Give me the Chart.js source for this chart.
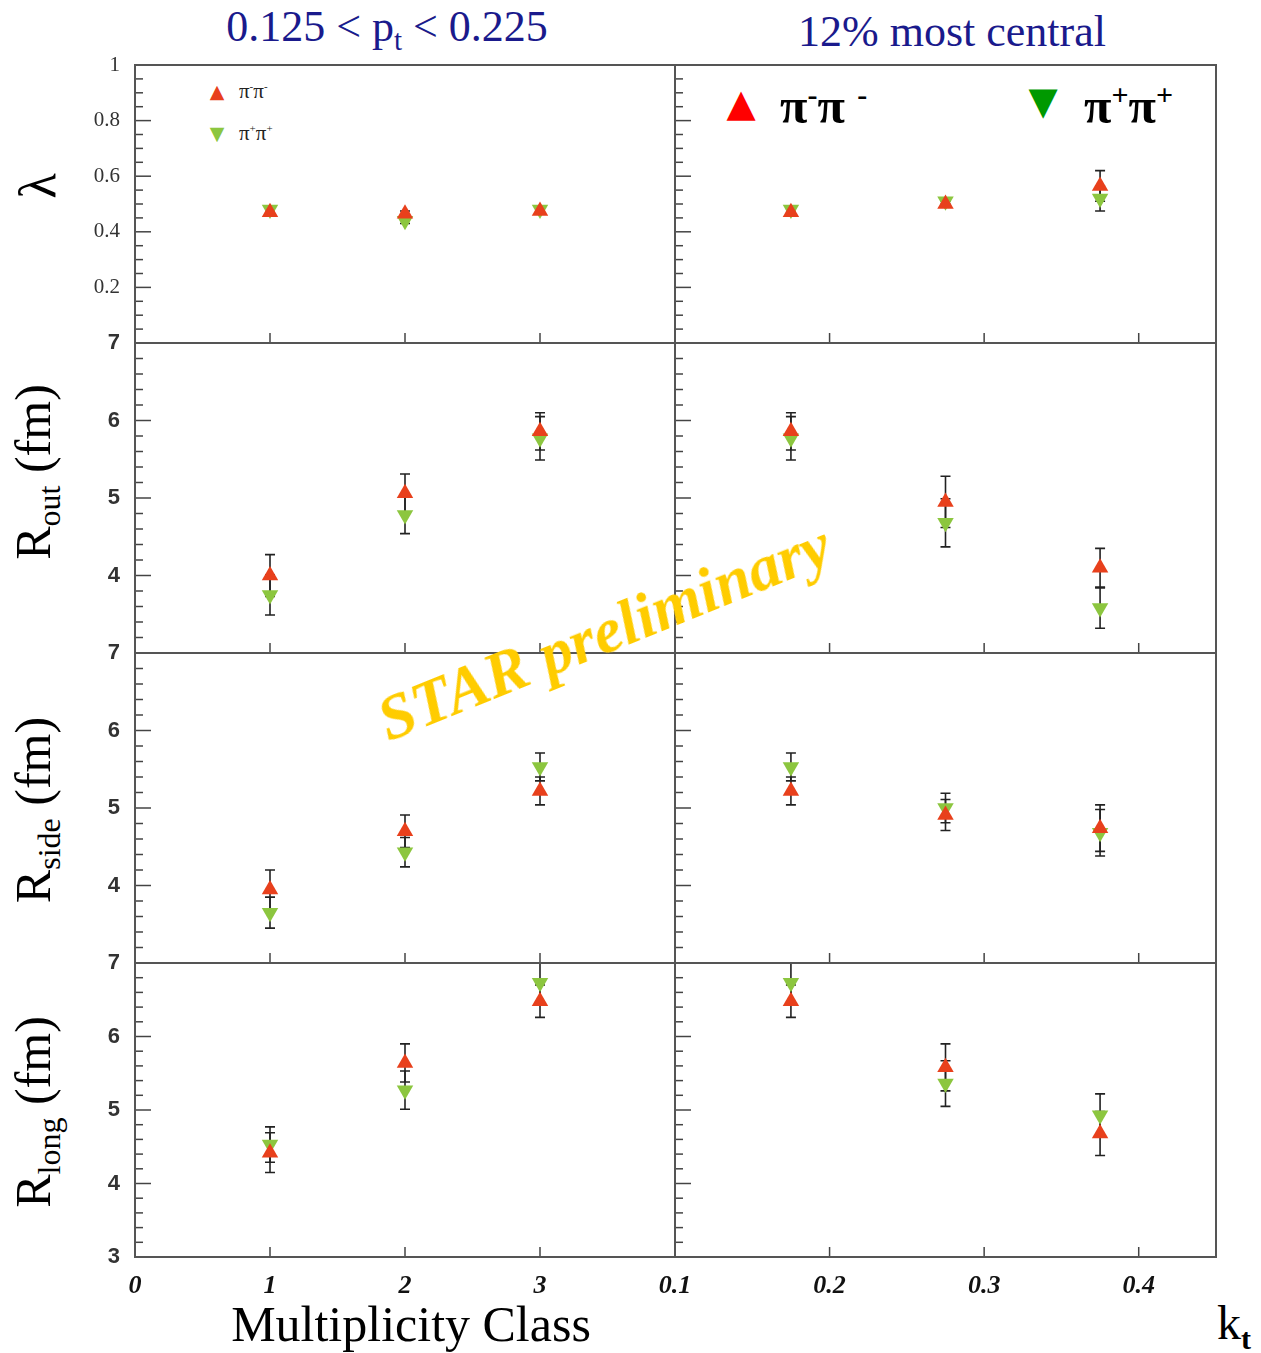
<!DOCTYPE html>
<html>
<head>
<meta charset="utf-8">
<script src="https://cdn.jsdelivr.net/npm/chart.js"></script>
<style>
  body { margin: 0; background: #fff; width: 1261px; height: 1353px; position: relative; overflow: hidden; font-family: "Liberation Serif", "Times New Roman", serif; }
  canvas { position: absolute; }
  .txt { position: absolute; white-space: nowrap; line-height: 1; }
  .center { transform: translate(-50%, -50%); }
  .ytitle { transform: translate(-50%, -50%) rotate(-90deg); font-size: 50px; color: #000; }
  .ytitle sub { font-size: 32px; vertical-align: -10px; }
  .title { color: #1a1a8c; font-size: 44px; }
  .title sub { font-size: 29px; vertical-align: -9px; }
  .mark { font-family: "DejaVu Sans", sans-serif; }
</style>
</head>
<body>

<div class="txt center title" style="left:387px; top:30px;">0.125 &lt; p<sub>t</sub> &lt; 0.225</div>
<div class="txt center title" style="left:952px; top:32px;">12% most central</div>

<div class="txt ytitle" style="left:38px; top:186px; font-size:52px;">λ</div>
<div class="txt ytitle" style="left:36px; top:472px;">R<sub>out</sub> (fm)</div>
<div class="txt ytitle" style="left:36px; top:810px;">R<sub>side</sub> (fm)</div>
<div class="txt ytitle" style="left:36px; top:1112px;">R<sub>long</sub> (fm)</div>

<div class="txt center" style="left:411px; top:1324px; font-size:50px;">Multiplicity Class</div>
<div class="txt center" style="left:1234px; top:1326px; font-size:48px;">k<sub style="font-size:30px; font-weight:bold; vertical-align:-10px;">t</sub></div>

<!-- small legend, lambda vs multiplicity panel -->
<div class="txt center mark" style="left:217px; top:91px; font-size:19px; color:#e8401c;">▲</div>
<div class="txt" style="left:239px; top:81px; font-size:21px; color:#222;">π<sup style="font-size:11px;">-</sup>π<sup style="font-size:11px;">-</sup></div>
<div class="txt center mark" style="left:217px; top:133px; font-size:19px; color:#8cc63f;">▼</div>
<div class="txt" style="left:239px; top:123px; font-size:21px; color:#222;">π<sup style="font-size:11px;">+</sup>π<sup style="font-size:11px;">+</sup></div>

<!-- large legend, lambda vs kt panel -->
<div class="txt center mark" style="left:741px; top:103px; font-size:38px; color:#ff0000;">▲</div>
<div class="txt" style="left:780px; top:80px; font-size:50px; font-weight:bold; color:#000;">π<sup style="font-size:30px;">-</sup>π <sup style="font-size:30px;">-</sup></div>
<div class="txt center mark" style="left:1043px; top:101px; font-size:38px; color:#009900;">▼</div>
<div class="txt" style="left:1084px; top:80px; font-size:50px; font-weight:bold; color:#000;">π<sup style="font-size:30px;">+</sup>π<sup style="font-size:30px;">+</sup></div>

<div class="txt center" style="left:604px; top:632px; transform: translate(-50%, -50%) rotate(-22deg); font-size:64px; font-weight:bold; font-style:italic; color:#ffcc00; z-index:5;">STAR preliminary</div>

<script>
// x positions
const multClass = [1, 2, 3];
const ktBins = [0.175, 0.275, 0.375];

// lambda
const lambdaMultNeg = [0.47, 0.465, 0.475];
const lambdaMultNegErr = [0.01, 0.01, 0.01];
const lambdaMultPos = [0.48, 0.44, 0.48];
const lambdaMultPosErr = [0.01, 0.01, 0.01];
const lambdaKtNeg = [0.47, 0.50, 0.565];
const lambdaKtNegErr = [0.01, 0.01, 0.055];
const lambdaKtPos = [0.48, 0.51, 0.52];
const lambdaKtPosErr = [0.01, 0.01, 0.045];

// R_out (fm)
const routMultNeg = [4.0, 5.06, 5.86];
const routMultNegErr = [0.27, 0.25, 0.24];
const routMultPos = [3.75, 4.78, 5.77];
const routMultPosErr = [0.26, 0.24, 0.28];
const routKtNeg = [5.86, 4.95, 4.10];
const routKtNegErr = [0.24, 0.33, 0.25];
const routKtPos = [5.77, 4.68, 3.58];
const routKtPosErr = [0.28, 0.31, 0.26];

// R_side (fm)
const rsideMultNeg = [3.95, 4.70, 5.22];
const rsideMultNegErr = [0.25, 0.21, 0.18];
const rsideMultPos = [3.65, 4.43, 5.53];
const rsideMultPosErr = [0.2, 0.19, 0.18];
const rsideKtNeg = [5.22, 4.91, 4.74];
const rsideKtNegErr = [0.18, 0.2, 0.3];
const rsideKtPos = [5.53, 5.0, 4.68];
const rsideKtPosErr = [0.18, 0.19, 0.3];

// R_long (fm)
const rlongMultNeg = [4.42, 5.64, 6.48];
const rlongMultNegErr = [0.27, 0.26, 0.22];
const rlongMultPos = [4.53, 5.27, 6.73];
const rlongMultPosErr = [0.24, 0.26, 0.28];
const rlongKtNeg = [6.48, 5.58, 4.68];
const rlongKtNegErr = [0.22, 0.32, 0.30];
const rlongKtPos = [6.73, 5.36, 4.93];
const rlongKtPosErr = [0.28, 0.31, 0.29];

// axis ranges per row
const yMin = [0, 3, 3, 3];
const yMax = [1, 7, 7, 7];
const yMinorStep = [0.05, 0.2, 0.2, 0.2];
const yMajorStep = [0.2, 1, 1, 1];

// page geometry
const rowTop = [65, 343, 653, 963];
const rowBottom = [343, 653, 963, 1257];

const negColor = '#e8401c';
const posColor = '#8cc63f';

function isMultiple(v, step) {
    const r = v / step;
    return Math.abs(r - Math.round(r)) < 1e-6;
}

function noScalePadding(s) {
    s.paddingTop = 0;
    s.paddingBottom = 0;
    s.paddingLeft = 0;
    s.paddingRight = 0;
}

const errorBars = {
    id: 'errorBars',
    beforeDatasetsDraw(chart) {
        const { ctx, chartArea: a, scales } = chart;
        ctx.save();
        ctx.beginPath();
        ctx.rect(a.left, a.top, a.right - a.left, a.bottom - a.top);
        ctx.clip();
        ctx.strokeStyle = '#222';
        ctx.lineWidth = 1.6;
        chart.data.datasets.forEach(ds => {
            ds.data.forEach((pt, i) => {
                const e = ds.errors[i];
                const x = scales.x.getPixelForValue(pt.x);
                const y1 = scales.y.getPixelForValue(pt.y + e);
                const y2 = scales.y.getPixelForValue(pt.y - e);
                ctx.beginPath();
                ctx.moveTo(x, y1); ctx.lineTo(x, y2);
                ctx.moveTo(x - 5, y1); ctx.lineTo(x + 5, y1);
                ctx.moveTo(x - 5, y2); ctx.lineTo(x + 5, y2);
                ctx.stroke();
            });
        });
        ctx.restore();
    }
};

// ROOT-style frame with inward ticks
const frameTicks = {
    id: 'frameTicks',
    afterDraw(chart, args, opts) {
        const { ctx, chartArea: a, scales } = chart;
        ctx.save();
        ctx.strokeStyle = '#444';
        ctx.lineWidth = 1.5;
        scales.y.ticks.forEach(t => {
            const y = scales.y.getPixelForValue(t.value);
            const len = isMultiple(t.value, opts.yMajor) ? 16 : 8;
            ctx.beginPath(); ctx.moveTo(a.left, y); ctx.lineTo(a.left + len, y); ctx.stroke();
        });
        scales.x.ticks.forEach(t => {
            const x = scales.x.getPixelForValue(t.value);
            ctx.beginPath(); ctx.moveTo(x, a.bottom); ctx.lineTo(x, a.bottom - 10); ctx.stroke();
        });
        ctx.strokeStyle = '#555';
        ctx.lineWidth = 2;
        ctx.strokeRect(a.left, a.top, a.right - a.left, a.bottom - a.top);
        ctx.restore();
    }
};

const panels = [
    { row: 0, col: 0, xs: multClass, neg: lambdaMultNeg, negErr: lambdaMultNegErr, pos: lambdaMultPos, posErr: lambdaMultPosErr },
    { row: 0, col: 1, xs: ktBins, neg: lambdaKtNeg, negErr: lambdaKtNegErr, pos: lambdaKtPos, posErr: lambdaKtPosErr },
    { row: 1, col: 0, xs: multClass, neg: routMultNeg, negErr: routMultNegErr, pos: routMultPos, posErr: routMultPosErr },
    { row: 1, col: 1, xs: ktBins, neg: routKtNeg, negErr: routKtNegErr, pos: routKtPos, posErr: routKtPosErr },
    { row: 2, col: 0, xs: multClass, neg: rsideMultNeg, negErr: rsideMultNegErr, pos: rsideMultPos, posErr: rsideMultPosErr },
    { row: 2, col: 1, xs: ktBins, neg: rsideKtNeg, negErr: rsideKtNegErr, pos: rsideKtPos, posErr: rsideKtPosErr },
    { row: 3, col: 0, xs: multClass, neg: rlongMultNeg, negErr: rlongMultNegErr, pos: rlongMultPos, posErr: rlongMultPosErr },
    { row: 3, col: 1, xs: ktBins, neg: rlongKtNeg, negErr: rlongKtNegErr, pos: rlongKtPos, posErr: rlongKtPosErr }
];

function makePanel(p) {
    const left = p.col === 0 ? 0 : 640;
    const axisW = p.col === 0 ? 135 : 35;
    const areaRight = p.col === 0 ? 675 : 1216;
    const padRight = 12;
    const padTop = 14;
    const bottomH = p.row === 3 ? 48 : 14;
    const width = areaRight + padRight - left;
    const height = rowBottom[p.row] - rowTop[p.row] + padTop + bottomH;

    const canvas = document.createElement('canvas');
    canvas.width = width;
    canvas.height = height;
    canvas.style.left = left + 'px';
    canvas.style.top = (rowTop[p.row] - padTop) + 'px';
    document.body.appendChild(canvas);

    const r = p.row;
    const yFont = r === 0
        ? { family: '"Liberation Serif", serif', size: 21 }
        : { family: '"Liberation Sans", Arial, sans-serif', size: 22, weight: 'bold' };

    new Chart(canvas.getContext('2d'), {
        type: 'scatter',
        data: {
            datasets: [
                {
                    label: 'π-π-',
                    data: p.xs.map((x, i) => ({ x: x, y: p.neg[i] })),
                    errors: p.negErr,
                    pointStyle: 'triangle',
                    pointRotation: 0,
                    pointRadius: 9.5,
                    pointBackgroundColor: negColor,
                    pointBorderWidth: 0
                },
                {
                    label: 'π+π+',
                    data: p.xs.map((x, i) => ({ x: x, y: p.pos[i] })),
                    errors: p.posErr,
                    pointStyle: 'triangle',
                    pointRotation: 180,
                    pointRadius: 9.5,
                    pointBackgroundColor: posColor,
                    pointBorderWidth: 0
                }
            ]
        },
        options: {
            responsive: false,
            animation: false,
            devicePixelRatio: 1,
            layout: { autoPadding: false, padding: { left: 0, right: padRight, top: padTop, bottom: p.row === 3 ? 0 : bottomH } },
            plugins: {
                legend: { display: false },
                tooltip: { enabled: false },
                frameTicks: { yMajor: yMajorStep[r] }
            },
            scales: {
                x: {
                    type: 'linear',
                    min: p.col === 0 ? 0 : 0.1,
                    max: p.col === 0 ? 4 : 0.45,
                    grid: { display: false },
                    border: { display: false },
                    ticks: {
                        display: p.row === 3,
                        stepSize: p.col === 0 ? 1 : 0.1,
                        includeBounds: false,
                        autoSkip: false,
                        maxRotation: 0,
                        padding: 6,
                        color: '#111',
                        font: { family: '"Liberation Serif", serif', size: 26, style: 'italic', weight: 'bold' },
                        callback: v => {
                            if (p.col === 0) return v < 4 ? String(v) : '';
                            return isMultiple(v, 0.1) ? v.toFixed(1) : '';
                        }
                    },
                    afterFit: s => { s.height = p.row === 3 ? bottomH : 0; noScalePadding(s); }
                },
                y: {
                    min: yMin[r],
                    max: yMax[r],
                    grid: { display: false },
                    border: { display: false },
                    ticks: {
                        display: p.col === 0,
                        stepSize: yMinorStep[r],
                        autoSkip: false,
                        padding: 7,
                        color: '#333',
                        font: yFont,
                        callback: v => {
                            if (!isMultiple(v, yMajorStep[r])) return '';
                            if (v === yMin[r] && r !== 3) return '';
                            return String(Math.round(v * 10) / 10);
                        }
                    },
                    afterFit: s => { s.width = axisW; noScalePadding(s); }
                }
            }
        },
        plugins: [errorBars, frameTicks]
    });
}

panels.forEach(makePanel);
</script>
</body>
</html>
